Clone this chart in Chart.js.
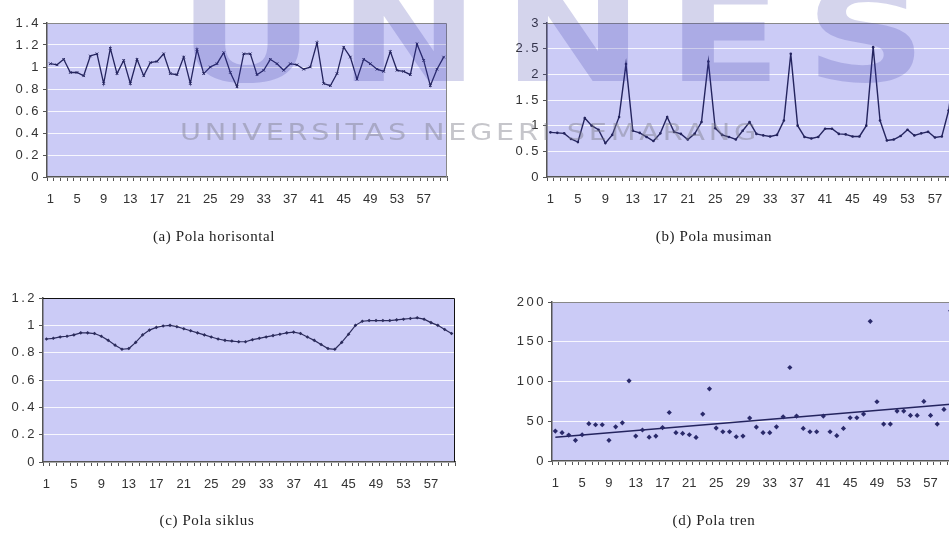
<!DOCTYPE html>
<html><head><meta charset="utf-8">
<script src="https://cdn.jsdelivr.net/npm/chart.js@4.4.1/dist/chart.umd.min.js"></script>
<style>
html,body{margin:0;padding:0;background:#fff;width:949px;height:537px;overflow:hidden;position:relative;font-family:"Liberation Sans",Arial,sans-serif}
canvas{position:absolute}
.cap{position:absolute;font-family:"Liberation Serif","DejaVu Serif",serif;font-size:15px;color:#222;transform:translateX(-50%);white-space:nowrap;letter-spacing:0.6px}
.wm{position:absolute;pointer-events:none;white-space:nowrap;transform-origin:0 0}
</style></head><body>
<canvas id="ca" width="470" height="250" style="left:0;top:0"></canvas>
<canvas id="cb" width="470" height="250" style="left:500px;top:0"></canvas>
<canvas id="cc" width="470" height="250" style="left:0;top:276px"></canvas>
<canvas id="cd" width="470" height="250" style="left:500px;top:276px"></canvas>
<div class="cap" style="left:214px;top:228px">(a) Pola horisontal</div>
<div class="cap" style="left:714px;top:228px">(b) Pola musiman</div>
<div class="cap" style="left:207px;top:512px">(c) Pola siklus</div>
<div class="cap" style="left:714px;top:512px">(d) Pola tren</div>
<div id="wm1" class="wm" style="left:178px;top:-40px;font-family:'DejaVu Sans';font-weight:bold;font-size:130px;color:rgba(60,60,170,0.22);letter-spacing:18px">UNNES</div>
<div id="wm2" class="wm" style="left:180px;top:119px;font-family:'DejaVu Sans';font-size:23px;color:rgba(120,120,130,0.42);letter-spacing:3px">UNIVERSITAS NEGERI SEMARANG</div>
<script>
const categories = ["1","2","3","4","5","6","7","8","9","10","11","12","13","14","15","16","17","18","19","20",
"21","22","23","24","25","26","27","28","29","30","31","32","33","34","35","36","37","38","39","40",
"41","42","43","44","45","46","47","48","49","50","51","52","53","54","55","56","57","58","59","60"];

const horisontal = [1.03,1.02,1.07,0.95,0.95,0.92,1.10,1.12,0.85,1.17,0.94,1.06,0.85,1.07,0.92,1.04,1.05,1.12,0.94,0.93,
1.09,0.85,1.16,0.94,1.00,1.03,1.13,0.95,0.82,1.12,1.12,0.93,0.97,1.07,1.03,0.97,1.03,1.02,0.98,1.00,
1.22,0.85,0.83,0.94,1.18,1.09,0.89,1.07,1.03,0.98,0.96,1.14,0.97,0.96,0.93,1.21,1.06,0.83,0.98,1.09];

const musiman = [0.87,0.86,0.85,0.74,0.68,1.15,1.00,0.92,0.66,0.82,1.17,2.20,0.90,0.86,0.78,0.70,0.85,1.17,0.88,0.84,
0.73,0.84,1.07,2.25,0.95,0.82,0.78,0.73,0.90,1.07,0.84,0.81,0.79,0.82,1.10,2.40,1.00,0.78,0.75,0.78,
0.94,0.94,0.84,0.83,0.79,0.79,1.00,2.53,1.10,0.71,0.73,0.80,0.92,0.81,0.85,0.88,0.77,0.79,1.30,2.30];

const siklus = [0.900,0.905,0.915,0.920,0.930,0.945,0.945,0.940,0.920,0.890,0.855,0.825,0.830,0.875,0.930,0.965,0.985,0.995,1.000,0.990,
0.975,0.960,0.945,0.930,0.915,0.900,0.890,0.885,0.880,0.880,0.895,0.905,0.915,0.925,0.935,0.945,0.950,0.940,0.915,0.890,
0.860,0.830,0.825,0.875,0.935,1.000,1.030,1.035,1.035,1.035,1.035,1.040,1.045,1.050,1.055,1.045,1.020,1.000,0.970,0.940];

const tren = [37.7,35.6,32.6,26,33,47,45.6,45.6,26,43,48,100.8,31.4,39,30,31.4,42,61,35.6,34.7,
33,29.7,59,90.8,41.4,36.8,36.8,30.5,31.4,54,42.7,35.6,35.6,43,55.6,117.6,56.5,41,36.8,36.8,
56.5,36.8,31.8,41,54.4,54.4,59,175.7,74.5,46.4,46.4,62.8,62.8,57.3,57.3,74.9,57.3,46.4,64.9,189];

const trendStart = 30;   // trend line value at category 1
const trendEnd = 71.5;   // trend line value at category 60

const yTicksA = {min:0, max:1.4, step:0.2};
const yTicksB = {min:0, max:3, step:0.5};
const yTicksC = {min:0, max:1.2, step:0.2};
const yTicksD = {min:0, max:200, step:50};

const NAVY = '#24245e';

const areaPlugin = {
  id:'area',
  beforeDraw(chart, args, opts){
    const {ctx, chartArea:a} = chart;
    ctx.save();
    ctx.fillStyle = opts.bg;
    ctx.fillRect(a.left, a.top, a.right-a.left, a.bottom-a.top);
    ctx.restore();
  },
  beforeDatasetsDraw(chart, args, opts){
    const {ctx, chartArea:a} = chart;
    ctx.save();
    ctx.strokeStyle = opts.border;
    ctx.lineWidth = 1;
    ctx.beginPath();
    ctx.moveTo(a.left, a.top+0.5); ctx.lineTo(a.right-0.5, a.top+0.5); ctx.lineTo(a.right-0.5, a.bottom);
    ctx.stroke();
    ctx.restore();
  }
};

function fmt(v){ return String(Math.round(v*10)/10); }

function spaceLabels(s){
  if (s._spaced) return;
  s._spaced = true;
  const orig = s.drawLabels.bind(s);
  s.drawLabels = function(ca){
    const ctx = this.ctx;
    ctx.save();
    ctx.letterSpacing = '2.5px';
    orig(ca);
    ctx.restore();
  };
}

function make(id, datasets, yt, yW, pad, borderTop){
  return new Chart(document.getElementById(id), {
    type:'line',
    data:{labels:categories, datasets},
    plugins:[areaPlugin],
    options:{
      responsive:false, animation:false,
      layout:{padding:pad},
      plugins:{legend:{display:false}, tooltip:{enabled:false}, area:{bg:'#cbcbf6', border:borderTop}},
      elements:{line:{tension:0}},
      scales:{
        x:{
          type:'category', offset:true,
          afterFit(s){ s.height = 30; },
          grid:{offset:true, drawOnChartArea:false, drawTicks:true, tickLength:4, tickColor:'#555', lineWidth:1},
          border:{color:'#555', width:1.5},
          ticks:{autoSkip:false, maxRotation:0, minRotation:0, padding:11, color:'#333',
                 font:{family:'"Liberation Sans", Arial, sans-serif', size:13},
                 callback:(v,i)=> i%4===0 ? categories[i] : ''}
        },
        y:{
          min:yt.min, max:yt.max,
          afterFit(s){ s.width = yW; spaceLabels(s); },
          grid:{color:'rgba(255,255,255,0.85)', lineWidth:1, drawTicks:true, tickLength:4, tickColor:'#555'},
          border:{color:'#555', width:1.5},
          ticks:{stepSize:yt.step, padding:2, color:'#333', callback:fmt,
                 font:{family:'"Liberation Sans", Arial, sans-serif', size:13}}
        }
      }
    }
  });
}

make('ca', [{data:horisontal, borderColor:NAVY, borderWidth:1.3, pointRadius:1.8, pointStyle:'crossRot',
  pointBorderColor:NAVY, pointBorderWidth:1}], yTicksA, 47, {top:23, left:0, right:23, bottom:43}, '#888');

make('cb', [{data:musiman, borderColor:NAVY, borderWidth:1.4, pointRadius:1.3, pointStyle:'circle',
  pointBackgroundColor:NAVY, pointBorderColor:NAVY, pointBorderWidth:0}], yTicksB, 47, {top:23, left:0, right:11, bottom:43}, '#888');

make('cc', [{data:siklus, borderColor:'#2c2c5c', borderWidth:1.2, pointRadius:1.8, pointStyle:'rectRot',
  pointBackgroundColor:'#2c2c5c', pointBorderColor:'#2c2c5c', pointBorderWidth:0}], yTicksC, 43, {top:22, left:0, right:15, bottom:34}, '#111');

make('cd', [
  {data:tren, showLine:false, pointRadius:2.6, pointStyle:'rectRot', pointBackgroundColor:'#2a2a6a', pointBorderColor:'#2a2a6a', pointBorderWidth:0},
  {data:[{x:categories[0], y:trendStart},{x:categories[categories.length-1], y:trendEnd}], borderColor:NAVY, borderWidth:1.5, pointRadius:0}
], yTicksD, 52, {top:26, left:0, right:16, bottom:35}, '#888');

function fit(id, w){
  const el = document.getElementById(id);
  const r = el.getBoundingClientRect();
  el.style.transform = 'scaleX(' + (w / r.width) + ')';
}
fit('wm1', 772);
fit('wm2', 580);
</script>
</body></html>
